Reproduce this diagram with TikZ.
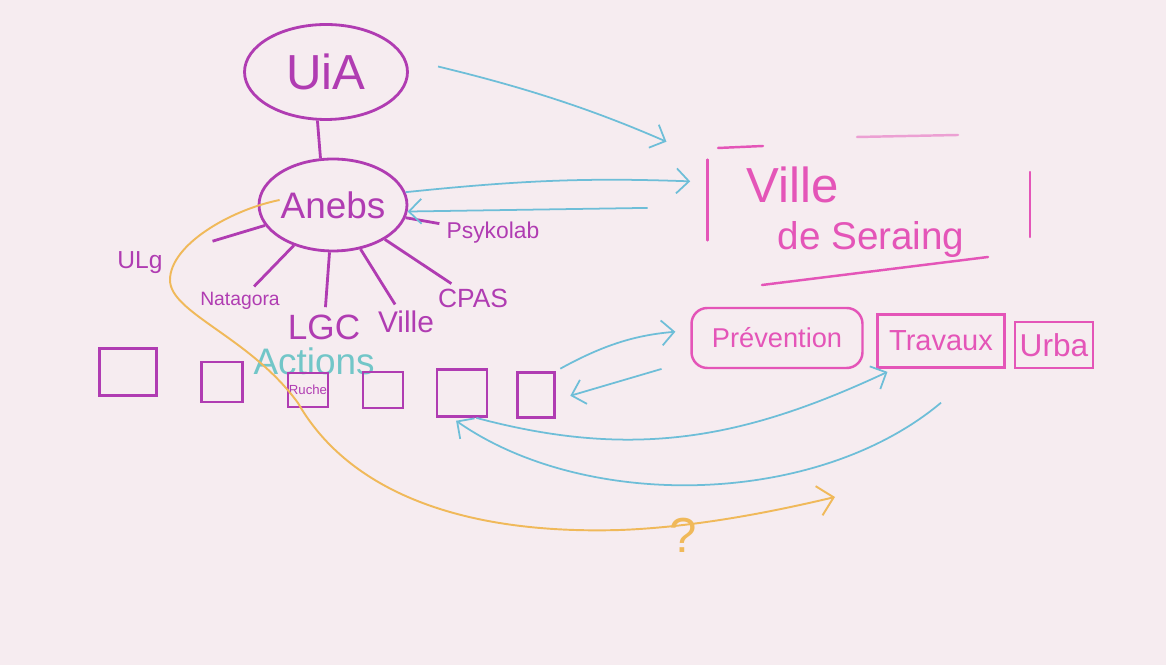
\documentclass[tikz,border=0pt]{standalone}
\usepackage{fontspec}
\setmainfont{Liberation Sans}
\usepackage{tikz}
\usetikzlibrary{arrows.meta,shapes.geometric}
\definecolor{board}{HTML}{F6ECF0}
\definecolor{mag}{HTML}{B03CB2}
\definecolor{rose}{HTML}{E455B8}
\definecolor{sky}{HTML}{6EBED8}
\definecolor{aqua}{HTML}{72C6C8}
\definecolor{amber}{HTML}{F0B95A}
\tikzset{
  bubble/.style={ellipse,draw=mag,line width=1.6pt,text=mag,inner sep=0pt},
  tag/.style={text=mag,inner sep=1pt},
  slot/.style={rectangle,draw=mag,line width=1.6pt,text=mag,inner sep=0.5pt},
  unit/.style={rectangle,draw=rose,line width=1.4pt,text=rose,inner sep=1pt},
  link/.style={draw=mag,line width=1.6pt},
  spoke/.style={link,shorten >=3pt},
  frame/.style={draw=rose,line width=1.4pt,line cap=round},
  flowarrow/.style={-{Straight Barb[length=2.5mm,width=5mm]},draw=sky,line width=1pt},
  hunch/.style={-{Straight Barb[length=3mm,width=6mm]},draw=amber,line width=1.1pt}
}
\begin{document}
\begin{tikzpicture}[x=0.02cm,y=0.02cm]
\fill[board] (0,0) rectangle (1166,665);
\node[bubble,minimum width=3.26cm,minimum height=1.9cm,font=\fontsize{28}{30}\selectfont] (uia) at (326,593) {UiA};
\node[bubble,minimum width=2.86cm,minimum height=1.84cm,font=\fontsize{21}{24}\selectfont] (anebs) at (333,460) {Anebs};
\node[tag,font=\fontsize{13}{15}\selectfont] (psy) at (493,432) {Psykolab};
\node[tag,font=\fontsize{15}{17}\selectfont] (cpas) at (473,367) {CPAS};
\node[tag,font=\fontsize{17}{19}\selectfont] (ville) at (406,343) {Ville};
\node[tag,font=\fontsize{20}{22}\selectfont] (lgc) at (324,338) {LGC};
\node[tag,font=\fontsize{11}{13}\selectfont] (natt) at (240,364) {Natagora};
\node[tag,font=\fontsize{14}{16}\selectfont] (ulg) at (140,402) {ULg};
\node[text=aqua,inner sep=1pt,font=\fontsize{21}{23}\selectfont] (actions) at (314,304) {Actions};

\node[slot,minimum width=1.14cm,minimum height=0.94cm] (s1) at (128,293) {};
\node[slot,minimum width=0.82cm,minimum height=0.8cm] (s2) at (222,283) {};
\node[slot,minimum width=0.8cm,minimum height=0.68cm,font=\fontsize{7.5}{8}\selectfont] (ruche) at (308,275) {Ruche};
\node[slot,minimum width=0.8cm,minimum height=0.72cm] (s4) at (383,275) {};
\node[slot,minimum width=1.0cm,minimum height=0.94cm] (s5) at (462,272) {};
\node[slot,minimum width=0.74cm,minimum height=0.9cm] (s6) at (536,270) {};

\node[minimum width=6.44cm,minimum height=1.6cm] (seraing) at (869,465) {};
\node[text=rose,font=\fontsize{28}{30}\selectfont] (vds1) at (793,480) {Ville};
\node[text=rose,font=\fontsize{22}{24}\selectfont] (vds2) at (871,425) {de Seraing};
\node[unit,rounded corners=9pt,minimum width=3.42cm,minimum height=1.2cm,font=\fontsize{15.5}{17}\selectfont] (prev) at (777,327) {Prévention};
\node[unit,minimum width=2.54cm,minimum height=1.06cm,font=\fontsize{16.5}{18}\selectfont] (trav) at (941,324) {Travaux};
\node[unit,minimum width=1.56cm,minimum height=0.92cm,font=\fontsize{18}{20}\selectfont] (urba) at (1054,320) {Urba};

\draw[frame] (seraing.north west) -- (seraing.south west); \draw[frame] (1030,493) -- (1030,428);
\draw[frame] (718,517) -- (763,519); \draw[frame,opacity=0.5] (857,528) -- (958,530);
\draw[frame] (762,380) -- (988,408);

\draw[link] (uia.260) -- (anebs.105);
\draw[spoke] (anebs) -- (psy); \draw[spoke] (anebs) -- (cpas); \draw[spoke] (anebs) -- (ville);
\draw[spoke] (anebs) -- (lgc); \draw[spoke] (anebs) -- (natt); \draw[link,shorten >=1cm] (anebs) -- (ulg);

\draw[flowarrow,shorten <=0.6cm,shorten >=0.9cm] ([yshift=0.25cm]uia.east) to[bend left=5] (seraing.north west);
\draw[flowarrow,shorten >=0.35cm] (anebs.10) to[bend left=4] ([yshift=0.36cm]seraing.west);
\draw[flowarrow,shorten <=1.2cm] ([yshift=-0.14cm]seraing.west) -- (anebs.-5);
\draw[flowarrow,shorten <=0.1cm,shorten >=0.3cm] (s6.north east) to[bend left=12] ([yshift=0.15cm]prev.west);
\draw[flowarrow,shorten <=0.6cm,shorten >=0.3cm] ([yshift=-0.45cm]prev.west) -- ([yshift=-0.1cm]s6.east);
\draw[flowarrow,shorten >=0.15cm] (s5.-60) to[out=-15,in=205] ([xshift=0.36cm]trav.south west);
\draw[flowarrow,shorten >=0.1cm] ([yshift=-0.68cm]trav.south) to[out=-140,in=-35,looseness=0.85] ([xshift=-0.2cm]s5.south);

\coordinate (ask) at (835,168);
\draw[hunch] ([xshift=0.44cm,yshift=0.1cm]anebs.west) .. controls (230,455) and (170,420) .. (170,385) .. controls (170,352) and (250,328) .. (298,262) .. controls (345,180) and (450,130) .. (620,135) .. controls (700,138) and (780,155) .. (ask);
\node[text=amber,font=\fontsize{28}{30}\selectfont] (qmark) at (683,130) {?};
\end{tikzpicture}
\end{document}
